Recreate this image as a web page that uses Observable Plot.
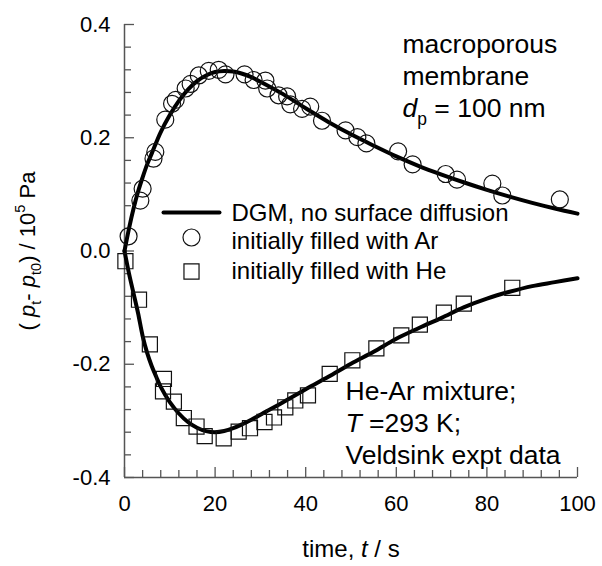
<!DOCTYPE html>
<html><head><meta charset="utf-8">
<script src="https://cdn.jsdelivr.net/npm/d3@7"></script>
<script src="https://cdn.jsdelivr.net/npm/@observablehq/plot@0.6"></script>
<style>html,body{margin:0;padding:0;background:#fff;}</style>
</head><body><div id="chart"></div>
<script>
// Experimental points: initially filled with Ar (circles)
const arTime = [0.9, 3.5, 4.0, 6.4, 6.8, 9.0, 10.5, 11.3, 13.5, 14.6, 16.4, 18.6, 20.8, 22.3, 26.5, 28.5, 31.1, 31.5, 34.0, 35.9, 36.6, 39.2, 41.0, 43.6, 48.8, 51.4, 53.4, 60.4, 63.6, 70.9, 73.4, 81.2, 83.4, 96.1];
const arVal  = [0.026, 0.089, 0.110, 0.163, 0.175, 0.232, 0.260, 0.267, 0.287, 0.295, 0.310, 0.318, 0.320, 0.312, 0.312, 0.302, 0.301, 0.287, 0.275, 0.273, 0.259, 0.251, 0.255, 0.230, 0.213, 0.201, 0.190, 0.176, 0.153, 0.136, 0.126, 0.119, 0.098, 0.091];
// Experimental points: initially filled with He (squares)
const heTime = [0.2, 3.2, 5.6, 8.7, 8.5, 10.9, 13.1, 15.9, 17.7, 21.9, 25.2, 27.7, 30.9, 33.0, 35.5, 37.7, 40.5, 45.3, 50.3, 55.6, 61.1, 65.2, 70.5, 74.9, 85.6];
const heVal  = [-0.018, -0.086, -0.165, -0.226, -0.248, -0.266, -0.295, -0.310, -0.327, -0.331, -0.319, -0.313, -0.302, -0.294, -0.276, -0.264, -0.255, -0.217, -0.193, -0.172, -0.149, -0.130, -0.109, -0.093, -0.065];
// DGM model curves
const dgmArT = [0, 1, 2, 3, 4, 5, 6, 8, 10, 12, 14, 16, 18, 20, 22, 24, 26, 28, 30, 35, 40, 45, 50, 55, 60, 65, 70, 75, 80, 85, 90, 95, 100];
const dgmArV = [0, 0.040, 0.075, 0.105, 0.130, 0.153, 0.172, 0.210, 0.240, 0.265, 0.285, 0.300, 0.310, 0.316, 0.318, 0.317, 0.313, 0.307, 0.299, 0.277, 0.252, 0.228, 0.206, 0.186, 0.167, 0.150, 0.135, 0.121, 0.108, 0.096, 0.085, 0.075, 0.066];
const dgmHeT = [0, 1, 2, 3, 4, 5, 6, 7, 8, 10, 12, 14, 16, 18, 20, 22, 24, 26, 28, 30, 35, 40, 45, 50, 55, 60, 65, 70, 75, 80, 85, 90, 95, 100];
const dgmHeV = [0, -0.040, -0.075, -0.110, -0.150, -0.180, -0.203, -0.222, -0.240, -0.267, -0.287, -0.302, -0.312, -0.318, -0.320, -0.318, -0.313, -0.306, -0.298, -0.289, -0.267, -0.244, -0.222, -0.199, -0.178, -0.155, -0.136, -0.118, -0.099, -0.084, -0.072, -0.062, -0.055, -0.048];
// Ticks
const xMajor = [0, 20, 40, 60, 80, 100];
const xTickLabels = ["0", "20", "40", "60", "80", "100"];
const xMinor = d3.range(0, 101, 4).filter(v => v % 20 !== 0);
const yMajor = [-0.4, -0.2, 0, 0.2, 0.4];
const yTickLabels = ["-0.4", "-0.2", "0.0", "0.2", "0.4"];
const yMinor = d3.range(-10, 11).filter(k => k % 5 !== 0).map(k => k * 0.04);
// Texts
const noteTop = ["macroporous", "membrane", "dp = 100 nm"];
const noteBottom = ["He-Ar mixture;", "T =293 K;", "Veldsink expt data"];
const legendLabels = ["DGM, no surface diffusion", "initially filled with Ar", "initially filled with He"];
const xLabel = "time, t / s";
const yLabel = "(pt - pt0) / 105 Pa";

const richMap = {
  "dp = 100 nm": [["d","i"],["p","sub"],[" = 100 nm",""]],
  "T =293 K;": [["T","i"],[" =293 K;",""]],
  "time, t / s": [["time, ",""],["t","i"],[" / s",""]],
  "(pt - pt0) / 105 Pa": [["( ",""],["p","i"],["t","sub"],["- ",""],["p","i"],["t0","sub"],[") / 10",""],["5","sup"],[" Pa",""]]
};

const FRAME = 453;
const axisColor = "#555";
const FS = 24, NFS = 26.5;
const font = "'Liberation Sans', Arial, sans-serif";
const legendDy = [189, 217, 247];

const chart = Plot.plot({
  width: 602, height: 566,
  marginLeft: 124, marginRight: 25, marginTop: 24, marginBottom: 89,
  style: {fontFamily: font, background: "#fff", color: "#000", overflow: "visible"},
  x: {domain: [0, 100]},
  y: {domain: [-0.4, 0.4]},
  marks: [
    // inward ticks
    Plot.tickX(xMinor, {x: d => d, insetTop: FRAME - 7, stroke: axisColor, strokeWidth: 1.3}),
    Plot.tickX(xMajor, {x: d => d, insetTop: FRAME - 10, stroke: axisColor, strokeWidth: 1.3}),
    Plot.tickY(yMinor, {y: d => d, insetRight: FRAME - 7, stroke: axisColor, strokeWidth: 1.3}),
    Plot.tickY(yMajor, {y: d => d, insetRight: FRAME - 10, stroke: axisColor, strokeWidth: 1.3}),
    Plot.ruleX([0], {stroke: axisColor, strokeWidth: 1.5}),
    Plot.ruleY([-0.4], {stroke: axisColor, strokeWidth: 1.5}),
    Plot.axisX(xMajor, {tickSize: 0, tickPadding: 18, fontSize: 22, label: null, tickFormat: d => xTickLabels[xMajor.indexOf(d)]}),
    Plot.axisY(yMajor, {tickSize: 0, tickPadding: 14, fontSize: 22, label: null, tickFormat: d => yTickLabels[yMajor.indexOf(d)]}),
    // model curves
    Plot.line(dgmArT, {x: d => d, y: (d, i) => dgmArV[i], curve: "catmull-rom", stroke: "#000", strokeWidth: 4}),
    Plot.line(dgmHeT, {x: d => d, y: (d, i) => dgmHeV[i], curve: "catmull-rom", stroke: "#000", strokeWidth: 4}),
    // data points
    Plot.dot(arTime, {x: d => d, y: (d, i) => arVal[i], r: 8.5, symbol: "circle", fill: "none", stroke: "#111", strokeWidth: 1.2}),
    Plot.dot(heTime, {x: d => d, y: (d, i) => heVal[i], r: 8.5, symbol: "square", fill: "none", stroke: "#111", strokeWidth: 1.2}),
    // legend
    Plot.vector([0], {frameAnchor: "top-left", dx: 39, dy: 188, rotate: 90, length: 56, anchor: "start", stroke: "#000", strokeWidth: 4,
      shape: {draw(ctx, l) { ctx.moveTo(0, 0); ctx.lineTo(0, -l); }}}),
    Plot.dot([0], {frameAnchor: "top-left", dx: 67, dy: 213, r: 8.5, symbol: "circle", fill: "none", stroke: "#111", strokeWidth: 1.2}),
    Plot.dot([0], {frameAnchor: "top-left", dx: 67, dy: 247, r: 8.5, symbol: "square", fill: "none", stroke: "#111", strokeWidth: 1.2}),
    ...legendLabels.map((t, i) => Plot.text([t], {frameAnchor: "top-left", dx: 107, dy: legendDy[i], textAnchor: "start", lineAnchor: "middle", fontSize: FS, fill: "#000"})),
    // annotations
    ...noteTop.map((t, i) => Plot.text([t], {frameAnchor: "top-left", dx: 278, dy: 20 + 32 * i, textAnchor: "start", lineAnchor: "middle", fontSize: NFS, fill: "#000"})),
    ...noteBottom.map((t, i) => Plot.text([t], {frameAnchor: "top-left", dx: 221, dy: 367 + 32 * i, textAnchor: "start", lineAnchor: "middle", fontSize: NFS, fill: "#000"})),
    Plot.text([xLabel], {frameAnchor: "bottom", dy: 72, textAnchor: "middle", lineAnchor: "middle", fontSize: FS, fill: "#000"}),
    Plot.text([yLabel], {frameAnchor: "left", dx: -97, rotate: -90, textAnchor: "middle", lineAnchor: "middle", fontSize: 22, fill: "#000"})
  ]
});
document.getElementById("chart").appendChild(chart);

// Rich text (italics, sub/superscripts)
const SVGNS = "http://www.w3.org/2000/svg";
chart.querySelectorAll("text").forEach(t => {
  const parts = richMap[t.textContent];
  if (!parts) return;
  const fs = parseFloat(getComputedStyle(t).fontSize) || FS;
  t.textContent = "";
  let shift = 0;
  for (const [s, st] of parts) {
    const ts = document.createElementNS(SVGNS, "tspan");
    ts.textContent = s;
    let target = 0;
    if (st === "i") ts.setAttribute("font-style", "italic");
    if (st === "sub") { ts.setAttribute("font-size", fs * 0.66); target = 0.3 * fs; }
    if (st === "sup") { ts.setAttribute("font-size", fs * 0.66); target = -0.42 * fs; }
    if (target !== shift) { ts.setAttribute("dy", target - shift); shift = target; }
    t.appendChild(ts);
  }
});
</script>
</body></html>
